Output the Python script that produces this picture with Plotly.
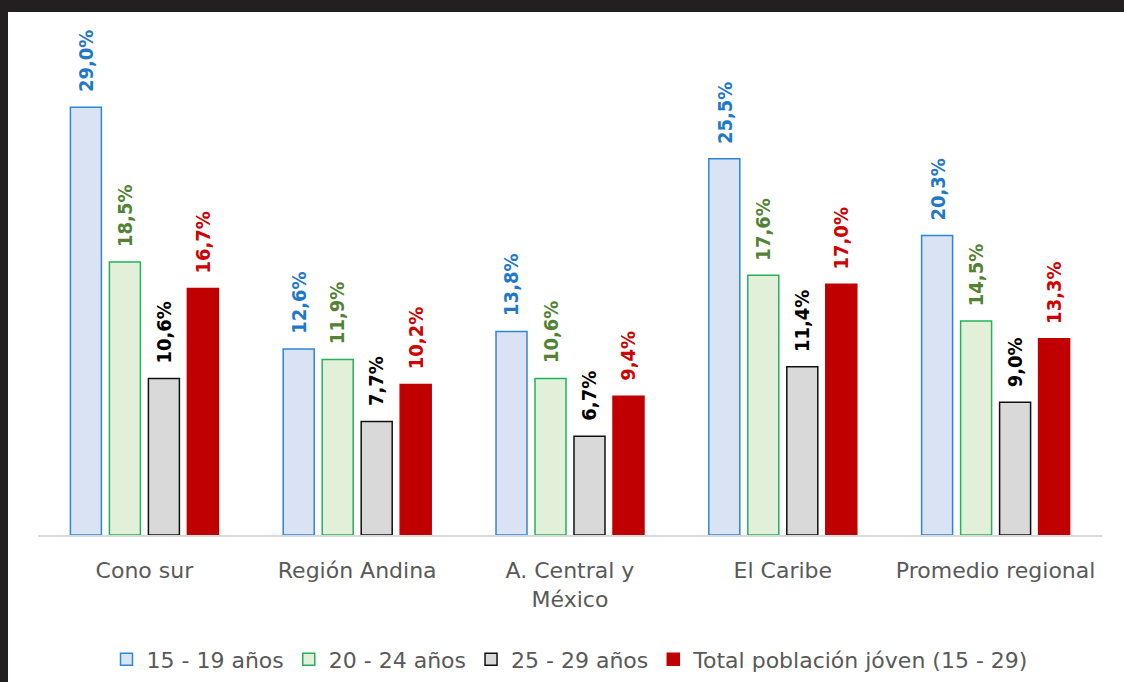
import plotly.graph_objects as go

categories = ["Cono sur", "Región Andina", "A. Central y<br>México", "El Caribe", "Promedio regional"]
series_names = ["15 - 19 años", "20 - 24 años", "25 - 29 años", "Total población jóven (15 - 29)"]
v_15_19 = [29.0, 12.6, 13.8, 25.5, 20.3]
v_20_24 = [18.5, 11.9, 10.6, 17.6, 14.5]
v_25_29 = [10.6, 7.7, 6.7, 11.4, 9.0]
v_total = [16.7, 10.2, 9.4, 17.0, 13.3]

series_values = [v_15_19, v_20_24, v_25_29, v_total]
fills = ["#DAE3F3", "#E2F0D9", "#D9D9D9", "#C00000"]
lines = ["#2E86D6", "#22B35A", "#111111", "#C00000"]
label_colors = ["#1F78C8", "#548235", "#000000", "#D00000"]
x_offsets = [-58.5, -19.5, 19.5, 58.5]

fig = go.Figure()
for name, vals, fc, lc in zip(series_names, series_values, fills, lines):
    fig.add_trace(go.Bar(
        x=categories, y=vals, name=name,
        marker=dict(color=fc, line=dict(color=lc, width=1.5)),
    ))

annotations = []
for vals, col, dx in zip(series_values, label_colors, x_offsets):
    for c, v in zip(categories, vals):
        annotations.append(dict(
            x=c, y=v, xref="x", yref="y",
            text="<b>" + f"{v:.1f}".replace(".", ",") + "%</b>",
            showarrow=False, textangle=-90,
            xshift=dx, yshift=13, yanchor="bottom", xanchor="center",
            font=dict(family="DejaVu Sans Condensed, Liberation Sans Narrow, Arial Narrow, sans-serif",
                      size=20, color=col),
        ))

fig.update_layout(
    width=1124, height=682,
    margin=dict(l=38, r=22, t=12, b=147, autoexpand=False),
    paper_bgcolor="white", plot_bgcolor="white",
    barmode="group", bargap=0.267, bargroupgap=0.205,
    annotations=annotations,
    font=dict(family="DejaVu Sans, sans-serif", color="#595959", size=22),
    xaxis=dict(showline=True, linecolor="#D9D9D9", linewidth=1.5, ticks="",
               tickfont=dict(size=22, color="#595959"), ticklabelstandoff=15,
               showgrid=False, zeroline=False),
    yaxis=dict(range=[0, 35.45], visible=False, showgrid=False, zeroline=False),
    legend=dict(orientation="h", x=0.5, xanchor="center", y=-0.198, yanchor="top",
                font=dict(size=22, color="#595959"), traceorder="normal"),
    shapes=[
        dict(type="rect", xref="paper", yref="paper", layer="above",
             x0=-38/1064, x1=(1124-38)/1064, y0=1.0, y1=535/523 + 0.0001,
             fillcolor="#231F20", line=dict(width=0)),
        dict(type="rect", xref="paper", yref="paper", layer="above",
             x0=-38/1064, x1=(8-38)/1064, y0=-147/523, y1=1.0,
             fillcolor="#231F20", line=dict(width=0)),
    ],
)

fig.write_html("out.html")
